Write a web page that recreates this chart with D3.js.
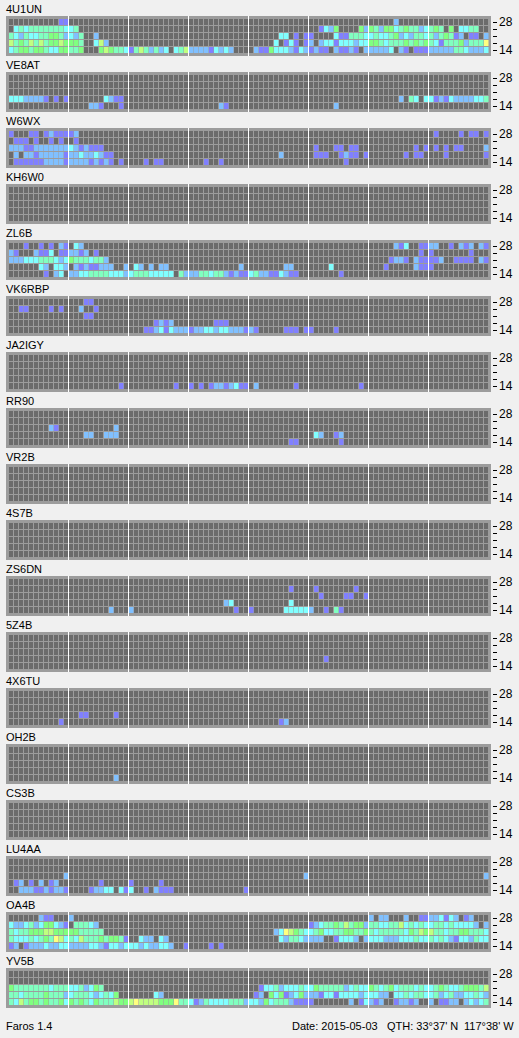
<!DOCTYPE html>
<html>
<head>
<meta charset="utf-8">
<script src="https://cdnjs.cloudflare.com/ajax/libs/d3/7.8.5/d3.min.js"></script>
<style>
  html, body { margin: 0; padding: 0; background: #f0f0f0; }
  svg { display: block; }
  text { font-family: "Liberation Sans", sans-serif; font-size: 11px; fill: #000; }
  .y.axis text { font-size: 12px; }
  .y.axis line { stroke: #000; }
</style>
</head>
<body>
<div id="graph"></div>
<script>
const w = 519;
const h = 1038;
const panelW = 485;
const panelH = 40;
const panelStep = 56;
const top0 = 16;

// bands shown top to bottom, 96 quarter-hour slots per row, 12 slots per group
const bands = [28, 24, 21, 18, 14];
const bandLabels = ["28", "", "", "", "14"];
const levels = [1, 2, 3, 4, 5, 6, 7];
const levelColors = ["#8080ff", "#80c0ff", "#80ffff", "#80ffc0", "#80ff80", "#c0ff80", "#ffff80"];

const Q = "000000000000 000000000000 000000000000 000000000000 000000000000 000000000000 000000000000 000000000000";

const s4U1UN = [
  "000000000011 000000000000 000000000000 000000000000 000000000000 000000000000 000002000000 000000000000",
  "034344444443 340000000000 000000000000 000000000000 000000000000 001325000052 542553454423 454050334400",
  "432433445542 324002000000 000000000000 000000000000 000000330101 100003114443 343345232443 424541201102",
  "645464645565 554003620000 000000000000 000000000000 000003013101 202331333233 554344454545 431444524447",
  "345545543355 445000565443 146424230346 222213232000 021153332132 121102112102 222230210111 222224432223",
];
const sVE8AT = [
  Q,
  Q,
  Q,
  "333222210101 000000032110 000000000000 000000000000 000000000000 000000000000 000000204303 312132222334",
  "000000000000 000022100010 000000000000 000000210000 000000000000 000002000000 000000000000 000000000000",
];
const sW6WX = [
  "100011012111 120000000000 000000000000 000000000000 000000000000 000000000000 000000000000 010000101101",
  "011101001010 010000000000 000000000000 000000000000 000000000000 000000000000 000000000000 000000000000",
  "222112222222 321211100000 000000000000 000000000000 000000000000 010001101100 000000000101 010101100002",
  "020221222221 223223211000 000000000000 000000000000 000000200000 011100121101 000000010110 000100000001",
  "011111122221 222212121010 000101100000 000100100000 000000000000 000000010000 000000000000 000000000000",
];
const sKH6W0 = [Q, Q, Q, Q, Q];
const sZL6B = [
  "000100101021 032000000000 000000000000 000000000000 000000000000 000000000000 000002130011 220010212021",
  "210002113011 221201000000 000000000000 000000000000 000000000000 000000000000 000000000010 100000001000",
  "222333444323 544434420000 000000000000 000000000000 000000000000 000000000000 000012210211 112001111021",
  "000000320332 021211222002 032020220000 000000000020 000000022000 000030000000 000100000211 100000000000",
  "000000010230 223344443332 344433333042 224434421211 342211321100 000000100000 000000000000 000000000000",
];
const sVK6RBP = [
  "000000000000 000110000000 000000000000 000000000000 000000000000 000000000000 000000000000 000000000000",
  "001100001010 002001000000 000000000000 000000000000 000000000000 000000000000 000000000000 000000000000",
  "000000000000 000110000000 000000000000 000000000000 000000000000 000000000000 000000000000 000000000000",
  "000000000000 000000000000 000001212000 000001110000 000000000000 000000000000 000000000000 000000000000",
  "000000000000 000000000000 000112313222 122332332221 210000011101 100001000000 000000000000 000000000000",
];
const sJA2IGY = [
  Q,
  Q,
  Q,
  Q,
  "000000000000 000000000010 000000000100 101012212311 020000000100 000000000010 000000000000 000000000000",
];
const sRR90 = [
  Q,
  Q,
  "000000002100 000000000200 000000000000 000000000000 000000000000 000000000000 000000000000 000000000000",
  "000000000000 000220022200 000000000000 000000000000 000000000000 032001200000 000000000000 000000000000",
  "000000000000 000000000000 000000000000 000000000000 000000001100 000000100000 000000000000 000000000000",
];
const sVR2B = [Q, Q, Q, Q, Q];
const s4S7B = [Q, Q, Q, Q, Q];
const sZS6DN = [
  Q,
  "000000000000 000000000000 000000000000 000000000000 000000001000 010000000100 000000000000 000000000000",
  "000000000000 000000000000 000000000000 000000000000 000000000000 001000011001 000000000000 000000000000",
  "000000000000 000000000000 000000000000 000000023000 000000003000 000000000000 000000000000 000000000000",
  "000000000000 000000002000 200000000000 000000000100 100000033333 200104100000 000000000000 000000000000",
];
const s5Z4B = [
  Q,
  Q,
  Q,
  "000000000000 000000000000 000000000000 000000000000 000000000000 000100000000 000000000000 000000000000",
  Q,
];
const s4X6TU = [
  Q,
  Q,
  Q,
  "000000000000 001100000100 000000000000 000000000000 000000000000 000000000000 000000000000 000000000000",
  "000000000010 000000000000 000000000000 000000000000 000000120000 000000000000 000000000000 000000000000",
];
const sOH2B = [
  Q,
  Q,
  Q,
  Q,
  "000000000000 000000000200 000000000000 000000000000 000000000000 000000000000 000000000000 000000000000",
];
const sCS3B = [Q, Q, Q, Q, Q];
const sLU4AA = [
  Q,
  Q,
  "000000000002 000000000000 000000000000 000000000000 000000000002 000000000000 000000000000 000000000002",
  "012010201200 000000100000 100000100000 000000000000 000000000000 000000000000 000000000000 000000000000",
  "002221121221 000012233031 300102111000 000000000001 000000000000 000000000000 000000000000 000000000000",
];
const sOA4B = [
  "000000211000 200000000000 000000000000 000000000000 000000000000 000000000000 202200020011 223132012000",
  "322342355321 044432000000 000000000000 000000000000 000000000000 123445464552 443344634343 344343333202",
  "434455566555 554444400000 000000000000 000000000000 000002376543 345334455445 434444435465 644344554443",
  "433343454763 436444545541 003220320000 000000000000 000000324432 222001333202 333222333433 434321332433",
  "120122232233 222233213323 332322332001 000010100000 000000000000 000000000000 000000000000 000000000000",
];
const sYV5B = [
  Q,
  Q,
  "544444443444 334235400000 000000000000 000000000000 001334233343 354444423433 543453444343 345433455546",
  "443444454442 344432343500 000003200000 000000000000 012053512352 221331333323 332203343443 342342233432",
  "436455454453 545435444655 676666555744 312433334442 332534442111 100000002013 212001221200 201122023234",
];

const callSigns = ["4U1UN", "VE8AT", "W6WX", "KH6W0", "ZL6B", "VK6RBP", "JA2IGY", "RR90", "VR2B",
  "4S7B", "ZS6DN", "5Z4B", "4X6TU", "OH2B", "CS3B", "LU4AA", "OA4B", "YV5B"];
const stations = [s4U1UN, sVE8AT, sW6WX, sKH6W0, sZL6B, sVK6RBP, sJA2IGY, sRR90, sVR2B,
  s4S7B, sZS6DN, s5Z4B, s4X6TU, sOH2B, sCS3B, sLU4AA, sOA4B, sYV5B];

const slots = d3.range(96);
const hourMarks = d3.range(12, 96, 12);

const svg = d3.select("#graph").append("svg").attr("width", w).attr("height", h);

const xScale = d3.scaleBand().domain(slots).range([3, 482]).paddingInner(0.2);
const yScale = d3.scaleBand().domain(bands).range([3, 37]).paddingInner(1 / 7);
const color = d3.scaleOrdinal().domain(levels).range(levelColors).unknown("#6b6b6b");

// ticks on the right, only first and last band get a number
const yAxis = d3.axisRight(yScale)
  .tickSize(4)
  .tickPadding(2)
  .tickFormat((d, i) => bandLabels[i]);

callSigns.forEach((name, idx) => {
  const cells = [];
  stations[idx].forEach((row, r) => {
    row.replace(/ /g, "").split("").forEach((v, c) => {
      cells.push({ band: bands[r], slot: c, value: +v });
    });
  });

  const panel = svg.append("g")
    .attr("transform", "translate(6," + (top0 + idx * panelStep) + ")");

  panel.append("text").attr("x", 0).attr("y", -3).text(name);

  panel.append("rect")
    .attr("width", panelW)
    .attr("height", panelH)
    .attr("fill", "#9c9c9c");

  // lit cells bleed half a pixel into the gap, same soft look as the reference
  panel.selectAll("rect.cell")
    .data(cells)
    .enter()
    .append("rect")
    .attr("class", "cell")
    .attr("x", (d) => xScale(d.slot))
    .attr("y", (d) => yScale(d.band))
    .attr("width", (d) => xScale.bandwidth() + (d.value > 0 ? 0.5 : 0))
    .attr("height", yScale.bandwidth())
    .attr("fill", (d) => color(d.value));

  // 3 hour lines
  panel.selectAll("rect.hour")
    .data(hourMarks)
    .enter()
    .append("rect")
    .attr("class", "hour")
    .attr("x", (d) => xScale(d) - 1)
    .attr("y", 0)
    .attr("width", 1)
    .attr("height", panelH)
    .attr("fill", "#fff")
    .attr("shape-rendering", "crispEdges");

  const ax = panel.append("g")
    .attr("class", "y axis")
    .attr("transform", "translate(" + (panelW + 2) + ",0)")
    .call(yAxis);
  ax.select(".domain").remove();
  ax.selectAll("line").attr("shape-rendering", "crispEdges");
});

svg.append("text").attr("x", 6).attr("y", 1030).text("Faros 1.4");
svg.append("text").attr("x", 292).attr("y", 1030).text("Date: 2015-05-03");
svg.append("text").attr("x", 387).attr("y", 1030).text("QTH: 33°37' N");
svg.append("text").attr("x", 464).attr("y", 1030).text("117°38' W");
</script>
</body>
</html>
